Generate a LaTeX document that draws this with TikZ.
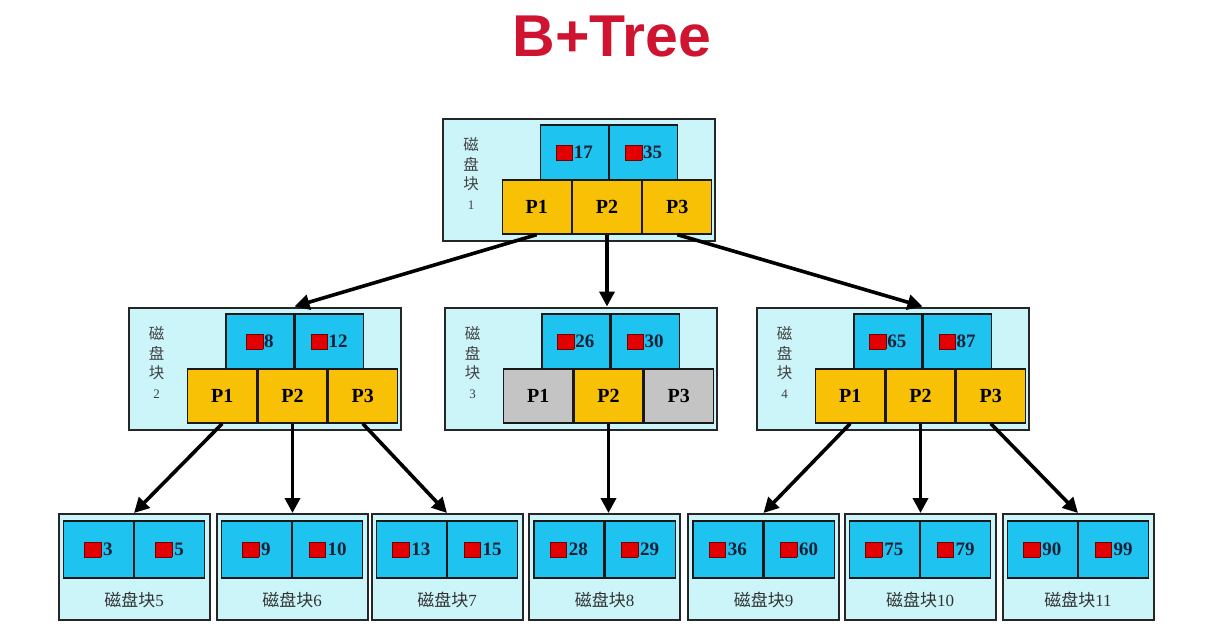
\documentclass[tikz,border=0pt]{standalone}
\usepackage{fontspec}
\setmainfont{Liberation Serif}
\newfontfamily\cjk{Noto Sans CJK SC}
\newfontfamily\titlefont{Liberation Sans}
\usetikzlibrary{arrows.meta,positioning}

\definecolor{blkfill}{HTML}{CCF5FA}
\definecolor{keyfill}{HTML}{1EC3F0}
\definecolor{ptrfill}{HTML}{F9C106}
\definecolor{grayfill}{HTML}{C4C4C4}
\definecolor{keyred}{HTML}{E30000}
\definecolor{titlered}{HTML}{CE1430}
\definecolor{numtext}{HTML}{1A2036}

% red pointer mark in front of a key
\newcommand\keymark{\raisebox{-1.5pt}{\fboxsep=0pt\fboxrule=0.5pt\fcolorbox{red!45!black}{keyred}{\rule{0pt}{14pt}\hspace*{16pt}}}}

\begin{document}
\begin{tikzpicture}[x=1pt,y=-1pt,>=Latex,
  blk/.style={draw=black!85,line width=2pt,fill=blkfill,inner sep=0pt},
  key/.style={draw=black!90,line width=1.3pt,fill=keyfill,inner sep=0pt,minimum width=68,minimum height=55,
    text=numtext,font=\bfseries\fontsize{19}{22}\selectfont},
  ptr/.style={draw=black!90,line width=1.3pt,fill=ptrfill,inner sep=0pt,minimum width=69,minimum height=54,
    font=\bfseries\fontsize{20}{22}\selectfont},
  gptr/.style={ptr,fill=grayfill},
  vlab/.style={align=center,text=black!75,font=\cjk\fontsize{15.5}{19.5}\selectfont,inner sep=0pt},
  lab/.style={text=black!80,font=\fontsize{17}{19}\selectfont,inner sep=0pt},
  arr/.style={line width=3.6pt,-{Triangle[length=15pt,width=15pt]}}]
\fill[white] (0,0) rectangle (1213,633);
\useasboundingbox (0,0) rectangle (1213,633);

\node[font=\titlefont\bfseries\fontsize{59}{59}\selectfont,text=titlered,inner sep=0pt] (title) at (612,36) {B+Tree};

% inner blocks: name/x/y/keys/pointer styles
\foreach \n/\cx/\cy/\ka/\kb/\pl/\pm/\pr in {1/579/179.5/17/35/ptr/ptr/ptr,2/264.5/368.5/8/12/ptr/ptr/ptr,
    3/580.5/368.5/26/30/gptr/ptr/gptr,4/892.5/368.5/65/87/ptr/ptr/ptr}{
  \node[blk,minimum width=272,minimum height=122] (b\n) at (\cx,\cy) {};
  \node[key,anchor=east] (k\n-1) at (\cx+30,\cy-27) {\keymark\kern1pt\ka};
  \node[key,right=0pt of k\n-1] (k\n-2) {\keymark\kern1pt\kb};
  \node[\pm] (p\n-2) at (\cx+28,\cy+27.5) {P2};
  \node[\pl,left=0pt of p\n-2] (p\n-1) {P1};
  \node[\pr,right=0pt of p\n-2] (p\n-3) {P3};
  \node[vlab] (v\n) at (\cx-108,\cy-6) {磁\\盘\\块\\{\rmfamily\fontsize{13}{15}\selectfont\n}};
}

% leaf blocks
\foreach \n/\cx/\ka/\kb in {5/134/3/5,6/292/9/10,7/447/13/15,8/604.5/28/29,9/763.5/36/60,10/920/75/79,11/1078/90/99}{
  \node[blk,minimum width=151,minimum height=106] (l\n) at (\cx,567) {};
  \node[key,minimum width=70,minimum height=57,anchor=east] (k\n-1) at (\cx,549.5) {\keymark\kern2pt\ka};
  \node[key,minimum width=70,minimum height=57,right=0pt of k\n-1] (k\n-2) {\keymark\kern2pt\kb};
  \node[lab] (t\n) at (\cx,600) {{\cjk 磁盘块}\n};
}

\draw[arr] (p1-1.south) -- (b2.north -| k2-1.east);
\draw[arr] (p1-2.south) -- (p1-2.south |- b3.north);
\draw[arr] (p1-3.south) -- (b4.north -| k4-1.east);
\draw[arr] (p2-1.south) -- (l5.north);
\draw[arr] (p2-2.south) -- (p2-2.south |- l6.north);
\draw[arr] (p2-3.south) -- (l7.north);
\draw[arr] (p3-2.south) -- (p3-2.south |- l8.north);
\draw[arr] (p4-1.south) -- (l9.north);
\draw[arr] (p4-2.south) -- (p4-2.south |- l10.north);
\draw[arr] (p4-3.south) -- (l11.north);
\end{tikzpicture}
\end{document}
